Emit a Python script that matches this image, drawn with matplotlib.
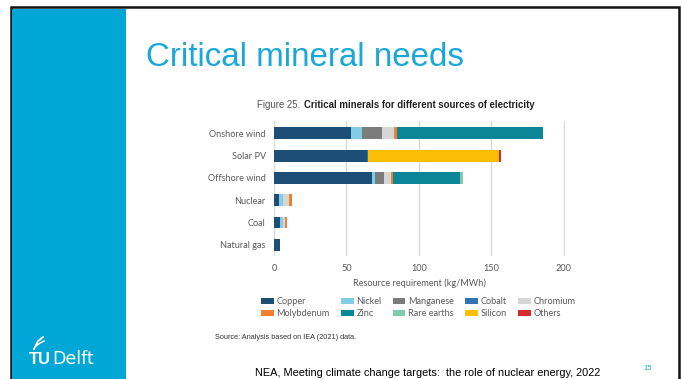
import matplotlib.pyplot as plt
from matplotlib.patches import Rectangle
from matplotlib.lines import Line2D

sources = ["Onshore wind", "Solar PV", "Offshore wind", "Nuclear", "Coal", "Natural gas"]

minerals = ["Copper", "Nickel", "Manganese", "Cobalt", "Chromium",
            "Molybdenum", "Zinc", "Rare earths", "Silicon", "Others"]

copper = [53.4, 64.4, 67.6, 3.2, 3.9, 3.9]
nickel = [7.3, 0, 2.3, 3.2, 2.3, 0]
manganese = [14.0, 0, 6.4, 0, 0, 0]
cobalt = [0, 0, 0, 0, 0, 0]
chromium = [8.5, 0, 4.6, 4.1, 1.6, 0]
molybdenum = [1.8, 0, 1.1, 1.6, 0.9, 0]
zinc = [100.8, 0.6, 46.6, 0, 0, 0]
rare_earths = [0, 0, 2.0, 0, 0, 0]
silicon = [0, 90.4, 0, 0, 0, 0]
others = [0, 1.4, 0, 0, 0, 0]

values = [copper, nickel, manganese, cobalt, chromium,
          molybdenum, zinc, rare_earths, silicon, others]

colors = ["#1d4e77", "#80cde6", "#7c7c7c", "#2f74b5", "#d6d6d6",
          "#f07f32", "#0b8598", "#7fcbab", "#fdbf05", "#d42a2a"]

xticks = [0, 50, 100, 150, 200]

W, H = 685, 379


def fx(px):
    return px / W


def fy(py):
    return 1 - py / H


fig = plt.figure(figsize=(6.85, 3.79), dpi=100)
fig.patch.set_facecolor("white")

# slide frame and side strip
fig.add_artist(Rectangle((fx(11), fy(381)), fx(679) - fx(11), fy(7) - fy(381),
                         transform=fig.transFigure, facecolor="none",
                         edgecolor="#111111", linewidth=1.8))
fig.add_artist(Rectangle((fx(12.5), 0), fx(126) - fx(12.5), fy(8.5),
                         transform=fig.transFigure, facecolor="#00a6d6",
                         edgecolor="none"))

# logo (rough)
fig.text(fx(29), fy(363.5), "TU", color="white", fontsize=12, fontweight="bold",
         family="Liberation Sans", va="baseline", ha="left")
fig.text(fx(52.5), fy(363.5), "Delft", color="white", fontsize=12.5,
         family="DejaVu Sans", va="baseline", ha="left")
fig.add_artist(Line2D([fx(34), fx(38), fx(43)], [fy(349), fy(341), fy(337)],
                      transform=fig.transFigure, color="white", linewidth=1.3))
fig.add_artist(Line2D([fx(36), fx(40), fx(44)], [fy(346), fy(343), fy(341)],
                      transform=fig.transFigure, color="white", linewidth=1.1))

fig.text(fx(146), fy(65.5), "Critical mineral needs", color="#19a8d8",
         fontsize=23.9, family="Liberation Sans", va="baseline", ha="left")

# chart
ax = fig.add_axes([fx(274), fy(256), fx(565) - fx(274), fy(121) - fy(256)])

y = list(range(len(sources)))
left = [0] * len(sources)
handles = {}
for name, vals, c in zip(minerals, values, colors):
    b = ax.barh(y, vals, left=left, color=c, height=0.53, label=name, zorder=3)
    handles[name] = b
    left = [l + v for l, v in zip(left, vals)]

ax.set_xlim(0, 201)
ax.set_ylim(5.5, -0.55)
ax.set_xticks(xticks)
ax.set_yticks(y)
ax.set_yticklabels(sources)
ax.grid(axis="x", color="#d9d9d9", linewidth=1, zorder=0)
for s in ax.spines.values():
    s.set_visible(False)
ax.tick_params(length=0, colors="#595959", labelsize=6.6, pad=6)
for t in ax.get_xticklabels() + ax.get_yticklabels():
    t.set_family("Lato")
ax.set_xlabel("Resource requirement (kg/MWh)", fontsize=6.6, color="#595959",
              family="Lato", labelpad=4)

order = ["Copper", "Molybdenum", "Nickel", "Zinc", "Manganese",
         "Rare earths", "Cobalt", "Silicon", "Chromium", "Others"]
leg = fig.legend([handles[n] for n in order], order, ncol=5,
                 loc="upper left", bbox_to_anchor=(fx(261), fy(297)),
                 frameon=False, handlelength=1.4,
                 handleheight=0.6, handletextpad=0.3, columnspacing=1.2,
                 labelspacing=0.35, borderpad=0, borderaxespad=0,
                 prop={"family": "Lato", "size": 6.6})
for t in leg.get_texts():
    t.set_color("#595959")

cap = fig.text(fx(257), fy(105.5), "Figure 25.", fontsize=6.9, color="#555555",
               family="Liberation Sans", va="center", ha="left")
ax.annotate("Critical minerals for different sources of electricity",
            xy=(1, 0.5), xycoords=cap, xytext=(2.5, 0), textcoords="offset points",
            fontsize=6.9, fontweight="bold", color="#222222",
            family="Liberation Sans", va="center", ha="left",
            annotation_clip=False)

fig.text(fx(215), fy(337.5), "Source: Analysis based on IEA (2021) data.",
         fontsize=5.3, color="#333333", family="Liberation Sans",
         va="center", ha="left")

fig.text(fx(255), fy(372.5),
         "NEA, Meeting climate change targets:  the role of nuclear energy, 2022",
         fontsize=7.9, color="black", family="Liberation Sans",
         va="center", ha="left")
fig.text(fx(648), fy(368), "15", fontsize=5.5, color="#19a8d8",
         family="Liberation Sans", va="center", ha="center")

fig.savefig("out.png", dpi=100)
